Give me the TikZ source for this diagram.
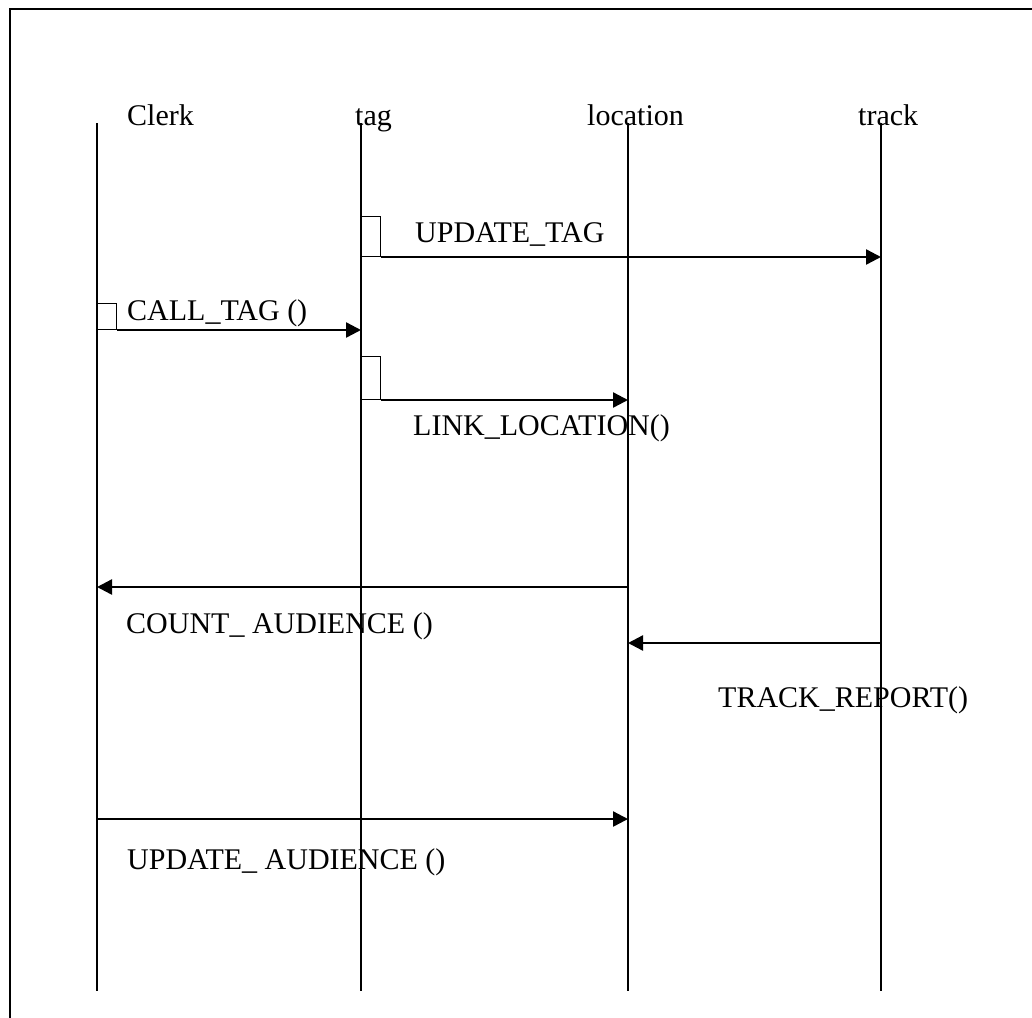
\documentclass[tikz,border=0pt]{standalone}
\usepackage{fontspec}
\setmainfont{Liberation Serif}
\usetikzlibrary{arrows.meta}

\begin{document}
\begin{tikzpicture}[x=1pt,y=-1pt,
    lbl/.style={font=\fontsize{30}{35}\selectfont,inner sep=0pt,anchor=base west},
    life/.style={line width=1.8pt},
    msg/.style={line width=2.4pt,-{Triangle[length=15pt,width=15pt]}},
    actbox/.style={draw,line width=1.3pt,inner sep=0pt,minimum width=19pt,anchor=south west}]
    \useasboundingbox (0,0) rectangle (1032,1017);
    % --- marco ---
    \draw[line width=2pt] (1040,9) -- (10,9) -- (10,1025);
    % --- lineas de vida ---
    \foreach \n/\x in {clerk/97,tag/361,location/628,track/881}{
      \coordinate (\n-top) at (\x,123);
      \coordinate (\n-bot) at (\x,991);
      \draw[life] (\n-top) -- (\n-bot);
    }
    \node[lbl] (clerk) at (127,125) {Clerk};
    \node[lbl] (tag) at (355,125) {tag};
    \node[lbl] (location) at (587,125) {location};
    \node[lbl] (track) at (858,125) {track};
    % --- UPDATE_TAG ---
    \node[actbox,minimum height=40pt] (tagact1) at (361,257) {};
    \draw[msg] (tagact1.south east) -- (tagact1.south east -| track-top);
    \node[lbl] (updtag) at (415,242) {UPDATE\_TAG};
    % --- CALL_TAG ---
    \node[actbox,minimum height=26pt] (clerkact) at (97,330) {};
    \draw[msg] (clerkact.south east) -- (clerkact.south east -| tag-top);
    \node[lbl] (calltag) at (127,320) {CALL\_TAG ()};
    % --- LINK_LOCATION ---
    \node[actbox,minimum height=43pt] (tagact2) at (361,400) {};
    \draw[msg] (tagact2.south east) -- (tagact2.south east -| location-top);
    \node[lbl] (linkloc) at (413,435) {LINK\_LOCATION()};
    % --- COUNT_AUDIENCE ---
    \coordinate (count) at (0,587);
    \draw[msg] (location-top |- count) -- (clerk-top |- count);
    \node[lbl] (countaud) at (126,633) {COUNT\_ AUDIENCE ()};
    % --- TRACK_REPORT ---
    \coordinate (report) at (0,643);
    \draw[msg] (track-top |- report) -- (location-top |- report);
    \node[lbl] (trackrep) at (718,707) {TRACK\_REPORT()};
    % --- UPDATE_AUDIENCE ---
    \coordinate (upd) at (0,819);
    \draw[msg] (clerk-top |- upd) -- (location-top |- upd);
    \node[lbl] (updaud) at (127,869) {UPDATE\_ AUDIENCE ()};
\end{tikzpicture}
\end{document}
